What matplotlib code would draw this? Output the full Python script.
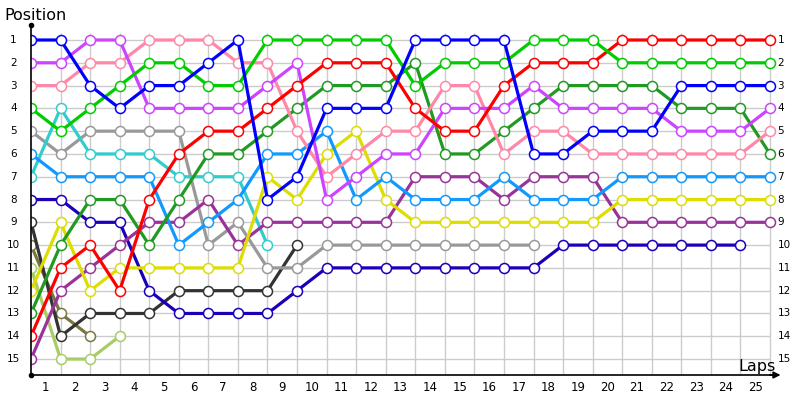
import matplotlib
matplotlib.use("Agg")
import matplotlib.pyplot as plt

laps = list(range(0, 26))
lap_labels = [str(i) for i in range(1, 26)]
positions = list(range(1, 16))

blue = [1, 1, 3, 4, 3, 3, 2, 1, 8, 7, 4, 4, 4, 1, 1, 1, 1, 6, 6, 5, 5, 5, 3, 3, 3, 3]
violet = [2, 2, 1, 1, 4, 4, 4, 4, 3, 2, 8, 7, 6, 6, 4, 4, 4, 3, 4, 4, 4, 4, 5, 5, 5, 4]
pink = [3, 3, 2, 2, 1, 1, 1, 2, 2, 5, 7, 6, 5, 5, 3, 3, 6, 5, 5, 6, 6, 6, 6, 6, 6, 5]
bgreen = [4, 5, 4, 3, 2, 2, 3, 3, 1, 1, 1, 1, 1, 3, 2, 2, 2, 1, 1, 1, 2, 2, 2, 2, 2, 2]
gray = [5, 6, 5, 5, 5, 5, 10, 9, 11, 11, 10, 10, 10, 10, 10, 10, 10, 10]
sky = [6, 7, 7, 7, 7, 10, 9, 8, 6, 6, 5, 8, 7, 8, 8, 8, 7, 8, 8, 8, 7, 7, 7, 7, 7, 7]
cyan = [7, 4, 6, 6, 6, 7, 7, 7, 10]
navy = [8, 8, 9, 9, 12, 13, 13, 13, 13, 12, 11, 11, 11, 11, 11, 11, 11, 11, 10, 10, 10, 10, 10, 10, 10]
black = [9, 14, 13, 13, 13, 12, 12, 12, 12, 10]
olive = [10, 13, 14]
lgreen = [11, 15, 15, 14]
yellow = [12, 9, 12, 11, 11, 11, 11, 11, 7, 8, 6, 5, 8, 9, 9, 9, 9, 9, 9, 9, 8, 8, 8, 8, 8, 8]
dgreen = [13, 10, 8, 8, 10, 8, 6, 6, 5, 4, 3, 3, 3, 2, 6, 6, 5, 4, 3, 3, 3, 3, 4, 4, 4, 6]
red = [14, 11, 10, 12, 8, 6, 5, 5, 4, 3, 2, 2, 2, 4, 5, 5, 3, 2, 2, 2, 1, 1, 1, 1, 1, 1]
purple = [15, 12, 11, 10, 9, 9, 8, 10, 9, 9, 9, 9, 9, 7, 7, 7, 8, 7, 7, 7, 9, 9, 9, 9, 9, 9]

series = [
    (lgreen, "#a8cc66"),
    (olive, "#77773f"),
    (black, "#333333"),
    (gray, "#999999"),
    (cyan, "#33cccc"),
    (navy, "#1a00b8"),
    (purple, "#993399"),
    (yellow, "#dddd00"),
    (sky, "#1199ff"),
    (dgreen, "#229922"),
    (pink, "#ff88a8"),
    (violet, "#cc44ff"),
    (red, "#ff0000"),
    (bgreen, "#00cc00"),
    (blue, "#0000ff"),
]

fig = plt.figure(figsize=(8, 4), dpi=100)
px = 29.56
x_lo, x_hi = 0.0, 25.4
y_top, y_bot = 0.3, 15.7
ax = fig.add_axes([31 / 800, 25 / 400, (x_hi - x_lo) * px / 800, (y_bot - y_top) * 22.79 / 400])
ax.set_xlim(x_lo, x_hi)
ax.set_ylim(y_bot, y_top)
ax.axis("off")

grid_c = "#cccccc"
for p in positions:
    ax.plot([0, 25], [p, p], color=grid_c, lw=1, zorder=1, solid_capstyle="butt")
for l in laps[1:]:
    ax.plot([l, l], [0.7, y_bot], color=grid_c, lw=1, zorder=1, solid_capstyle="butt")

for vals, col in series:
    xs = list(range(len(vals)))
    ax.plot(xs, vals, color=col, lw=2.3, marker="o", markersize=7.2,
            markerfacecolor="white", markeredgecolor=col, markeredgewidth=1.1,
            zorder=3, solid_joinstyle="round")

# axes lines
ax.plot([0, 0], [0.35, y_bot], color="black", lw=1.2, zorder=4, clip_on=False)
ax.plot([0, 25.2], [y_bot, y_bot], color="black", lw=1.2, zorder=4, clip_on=False)
ax.plot([0], [0.35], marker="o", color="black", markersize=3, zorder=5, clip_on=False)
ax.plot([0], [y_bot], marker="o", color="black", markersize=3, zorder=5, clip_on=False)
ax.annotate("", xy=(25.45, y_bot), xytext=(24.9, y_bot),
            arrowprops=dict(arrowstyle="-|>", color="black", lw=1.2, mutation_scale=10),
            annotation_clip=False, zorder=5)

for p in positions:
    ax.text(-0.6, p, str(p), ha="center", va="center", fontsize=7.5, clip_on=False)
    ax.text(25.25, p, str(p), ha="left", va="center", fontsize=7.5, clip_on=False)
for i, lab in enumerate(lap_labels):
    ax.text(i + 0.5, y_bot + 0.55, lab, ha="center", va="center", fontsize=8.5, clip_on=False)

fig.text(4 / 800, 1 - 15 / 400, "Position", ha="left", va="center", fontsize=11.5)
fig.text(757 / 800, 1 - 366 / 400, "Laps", ha="center", va="center", fontsize=11.5)

fig.savefig("out.png", dpi=100)
